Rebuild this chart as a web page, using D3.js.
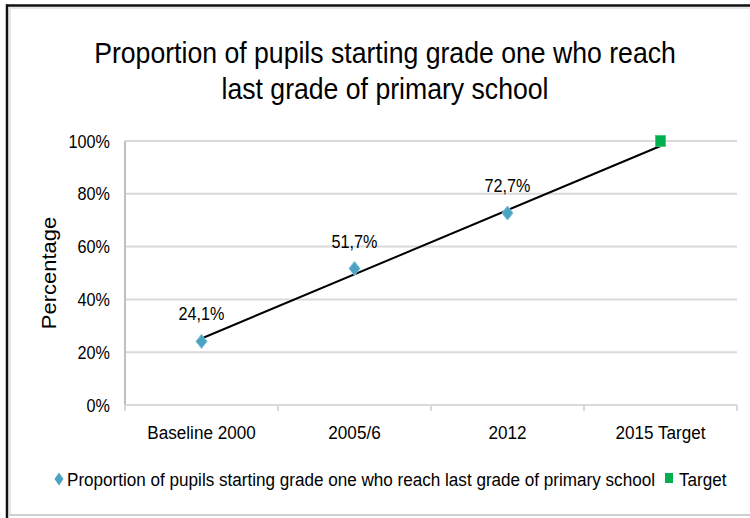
<!DOCTYPE html>
<html>
<head>
<meta charset="utf-8">
<script src="https://cdn.jsdelivr.net/npm/d3@7"></script>
<style>
  html, body { margin: 0; padding: 0; background: #ffffff; }
  svg { display: block; }
  text { font-family: "Liberation Sans", Arial, sans-serif; fill: #000; }
</style>
</head>
<body>
<svg id="chart" width="750" height="518"></svg>
<script>
// Chart data
const categories = ["Baseline 2000", "2005/6", "2012", "2015 Target"];
const pupilValues = [24.1, 51.7, 72.7];          // percent, first three categories
const pupilLabels = ["24,1%", "51,7%", "72,7%"];
const targetCategory = ["2015 Target"];
const targetValues = [100];
const yTicks = [0, 20, 40, 60, 80, 100];
const yTickLabels = ["0%", "20%", "40%", "60%", "80%", "100%"];
const titleLines = ["Proportion of pupils starting grade one who reach", "last grade of primary school"];
const seriesName = "Proportion of pupils starting grade one who reach last grade of primary school";
const targetName = "Target";
const yAxisTitle = "Percentage";

const svg = d3.select("#chart");
const W = 750, H = 518;
const SX = 0.9; // narrow glyph width used throughout

const plot = { left: 125, right: 737, top: 141, bottom: 405 };

const x = d3.scaleBand().domain(categories).range([plot.left, plot.right]).padding(0);
const y = d3.scaleLinear().domain([0, 100]).range([plot.bottom, plot.top]);
const cx = c => x(c) + x.bandwidth() / 2;

// helper: text squeezed horizontally
function label(g, str, px, py, size, anchor) {
  return g.append("text")
    .attr("transform", `translate(${px},${py}) scale(${SX},1)`)
    .attr("font-size", size)
    .attr("text-anchor", anchor || "middle")
    .text(str);
}

// outer frame
svg.append("rect").attr("x", 0).attr("y", 0).attr("width", W).attr("height", H).attr("fill", "#fff");
svg.append("line").attr("x1", 9).attr("x2", W).attr("y1", 8).attr("y2", 8).attr("stroke", "#e6e6e6").attr("stroke-width", 2);
svg.append("line").attr("x1", 10).attr("x2", 10).attr("y1", 8).attr("y2", 514).attr("stroke", "#e6e6e6").attr("stroke-width", 2);
svg.append("line").attr("x1", 6).attr("x2", W).attr("y1", 5.5).attr("y2", 5.5).attr("stroke", "#111").attr("stroke-width", 2.5);
svg.append("line").attr("x1", 7).attr("x2", 7).attr("y1", 4.5).attr("y2", 518).attr("stroke", "#111").attr("stroke-width", 2.5);
svg.append("line").attr("x1", 8).attr("x2", W).attr("y1", 515).attr("y2", 515).attr("stroke", "#cfcfcf").attr("stroke-width", 2);

// title
const tg = svg.append("g");
label(tg, titleLines[0], 385, 63, 29.6);
label(tg, titleLines[1], 385, 99, 29.6);

// gridlines
const grid = svg.append("g");
grid.selectAll("line").data(yTicks.filter(d => d > 0)).join("line")
  .attr("x1", plot.left).attr("x2", plot.right)
  .attr("y1", d => y(d)).attr("y2", d => y(d))
  .attr("stroke", "#d9d9d9").attr("stroke-width", 2);

// y axis line
svg.append("line").attr("x1", plot.left).attr("x2", plot.left)
  .attr("y1", plot.top).attr("y2", plot.bottom + 6)
  .attr("stroke", "#bfbfbf").attr("stroke-width", 2);

// x axis with boundary ticks
svg.append("line").attr("x1", plot.left).attr("x2", plot.right)
  .attr("y1", y(0)).attr("y2", y(0)).attr("stroke", "#d9d9d9").attr("stroke-width", 2);
const bounds = categories.map(c => x(c)).concat([plot.right]);
svg.append("g").selectAll("line").data(bounds).join("line")
  .attr("x1", d => d).attr("x2", d => d)
  .attr("y1", y(0)).attr("y2", y(0) + 6)
  .attr("stroke", "#d9d9d9").attr("stroke-width", 2);

// y tick labels
const yl = svg.append("g");
yTicks.forEach((t, i) => label(yl, yTickLabels[i], 110, y(t) + 6.5, 18, "end"));

// x tick labels
const xl = svg.append("g");
categories.forEach(c => label(xl, c, cx(c), 439, 19));

// y axis title
svg.append("text")
  .attr("transform", `translate(56,273) rotate(-90) scale(1,${SX})`)
  .attr("font-size", 22).attr("text-anchor", "middle")
  .text(yAxisTitle);

// linear trend of the pupil series, projected one period forward
const xs = pupilValues.map((d, i) => i + 1);
const mx = d3.mean(xs), my = d3.mean(pupilValues);
const slope = d3.sum(xs, (xi, i) => (xi - mx) * (pupilValues[i] - my)) / d3.sum(xs, xi => (xi - mx) ** 2);
const intercept = my - slope * mx;
const trend = categories.map((c, i) => ({ c, v: intercept + slope * (i + 1) }));
svg.append("path")
  .datum([trend[0], trend[trend.length - 1]])
  .attr("d", d3.line().x(d => cx(d.c)).y(d => y(d.v)))
  .attr("stroke", "#000").attr("stroke-width", 2).attr("fill", "none");

// diamond markers
const diamond = (w, h) => `M0,${-h / 2}L${w / 2},0L0,${h / 2}L${-w / 2},0Z`;
svg.append("g").selectAll("path").data(pupilValues).join("path")
  .attr("transform", (d, i) => `translate(${cx(categories[i])},${y(d)})`)
  .attr("d", diamond(11, 14))
  .attr("fill", "#4ba3c3").attr("stroke", "#7cc0dc").attr("stroke-width", 1);

// data labels
const dl = svg.append("g");
pupilValues.forEach((d, i) => label(dl, pupilLabels[i], cx(categories[i]), y(d) - 21, 18));

// target marker
svg.append("g").selectAll("rect").data(targetValues).join("rect")
  .attr("x", (d, i) => cx(targetCategory[i]) - 5)
  .attr("y", d => y(d) - 5.5)
  .attr("width", 10).attr("height", 11)
  .attr("fill", "#00b050").attr("stroke", "#3cc878").attr("stroke-width", 0.8);

// legend
const lg = svg.append("g");
lg.append("path").attr("transform", "translate(59,479)").attr("d", diamond(9, 13))
  .attr("fill", "#4ba3c3");
label(lg, seriesName, 67, 486, 19, "start");
lg.append("rect").attr("x", 665).attr("y", 473).attr("width", 8).attr("height", 10).attr("fill", "#00b050");
label(lg, targetName, 679, 486, 19, "start");
</script>
</body>
</html>
